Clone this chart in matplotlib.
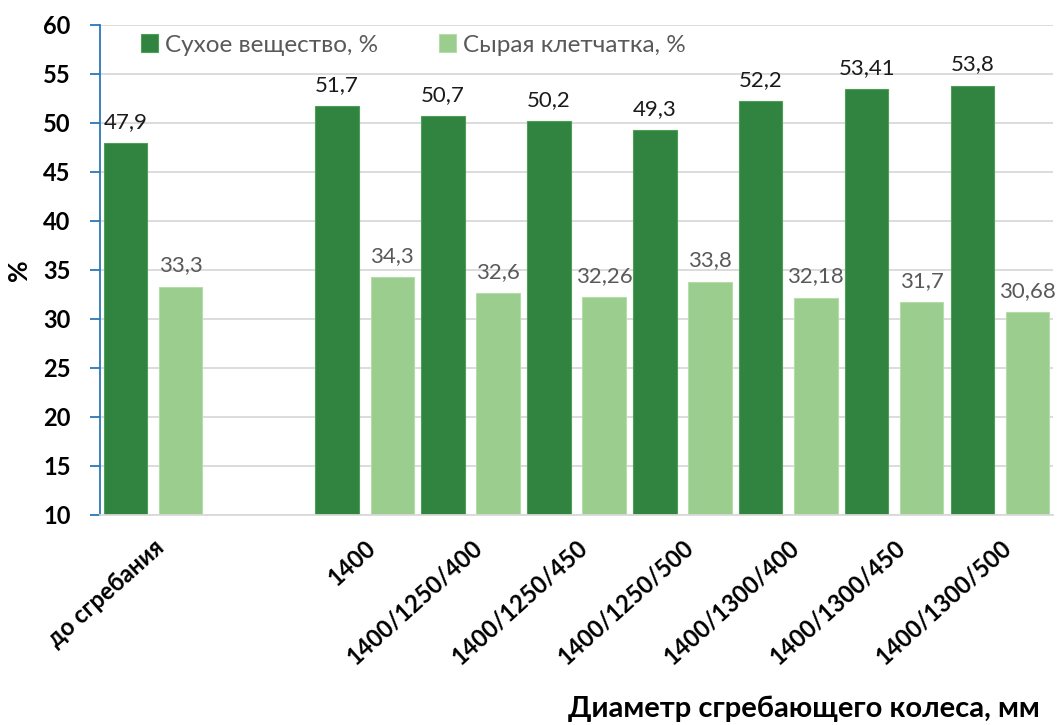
import numpy as np
import matplotlib
matplotlib.use('Agg')
import matplotlib.pyplot as plt

plt.rcParams['font.family'] = ['Lato', 'DejaVu Sans']

# Данные
categories = ['до сгребания', '', '1400', '1400/1250/400', '1400/1250/450',
              '1400/1250/500', '1400/1300/400', '1400/1300/450', '1400/1300/500']
dry_matter = [47.9, np.nan, 51.7, 50.7, 50.2, 49.3, 52.2, 53.41, 53.8]
crude_fiber = [33.3, np.nan, 34.3, 32.6, 32.26, 33.8, 32.18, 31.7, 30.68]
series_names = ['Сухое вещество, %', 'Сырая клетчатка, %']

dark = '#31843F'
light = '#9ACD8E'

fig = plt.figure(figsize=(10.59, 7.25), dpi=100)
ax = fig.add_axes([0.0944, 0.2897, 0.900, 0.676])

x = np.arange(len(categories))
w = 0.41
off = 0.26
ax.bar(x - off, dry_matter, w, color=dark, edgecolor='#4E9E5A', linewidth=0.8,
       label=series_names[0], zorder=2)
ax.bar(x + off, crude_fiber, w, color=light, edgecolor='#B4DDA9', linewidth=0.8,
       label=series_names[1], zorder=2)

# подписи значений
for xi, v in zip(x, dry_matter):
    if not np.isnan(v):
        ax.annotate(str(v).replace('.', ','), (xi - off, v), xytext=(0, 8),
                    textcoords='offset points', ha='center', va='bottom',
                    fontsize=16, color='#1a1a1a')
for xi, v in zip(x, crude_fiber):
    if not np.isnan(v):
        ax.annotate(str(v).replace('.', ','), (xi + off, v), xytext=(0, 8),
                    textcoords='offset points', ha='center', va='bottom',
                    fontsize=16, color='#595959')

ax.set_xlim(-0.5, 8.5)
ax.set_ylim(10, 60)
ax.set_yticks(range(10, 61, 5))
ax.yaxis.grid(True, color='#D9D9D9', linewidth=1.3, zorder=0)
ax.set_axisbelow(True)

for s in ['top', 'right']:
    ax.spines[s].set_visible(False)
ax.spines['left'].set_color('#2E75B6')
ax.spines['left'].set_linewidth(1.3)
ax.spines['bottom'].set_color('#D9D9D9')
ax.spines['bottom'].set_linewidth(1.3)

ax.tick_params(axis='y', direction='out', length=7, width=1.3, color='#2E75B6',
               labelsize=17, pad=14)
ax.tick_params(axis='x', length=0, labelsize=17, pad=15)
for t in ax.get_yticklabels():
    t.set_fontweight('bold')

ax.set_xticks(x)
ax.set_xticklabels(categories, rotation=42, ha='right', rotation_mode='anchor',
                   fontweight='bold')

ax.set_ylabel('%', fontsize=19, fontweight='bold', labelpad=9)
fig.text(0.982, 0.004, 'Диаметр сгребающего колеса, мм', ha='right', va='bottom',
         fontsize=21, fontweight='bold')

ax.legend(loc='upper left', bbox_to_anchor=(0.02, 1.025), ncol=2, frameon=False,
          fontsize=17.5, labelcolor='#595959', handlelength=0.7, handleheight=0.7,
          handletextpad=0.3, columnspacing=2.5)

fig.savefig('out.png', dpi=100)
